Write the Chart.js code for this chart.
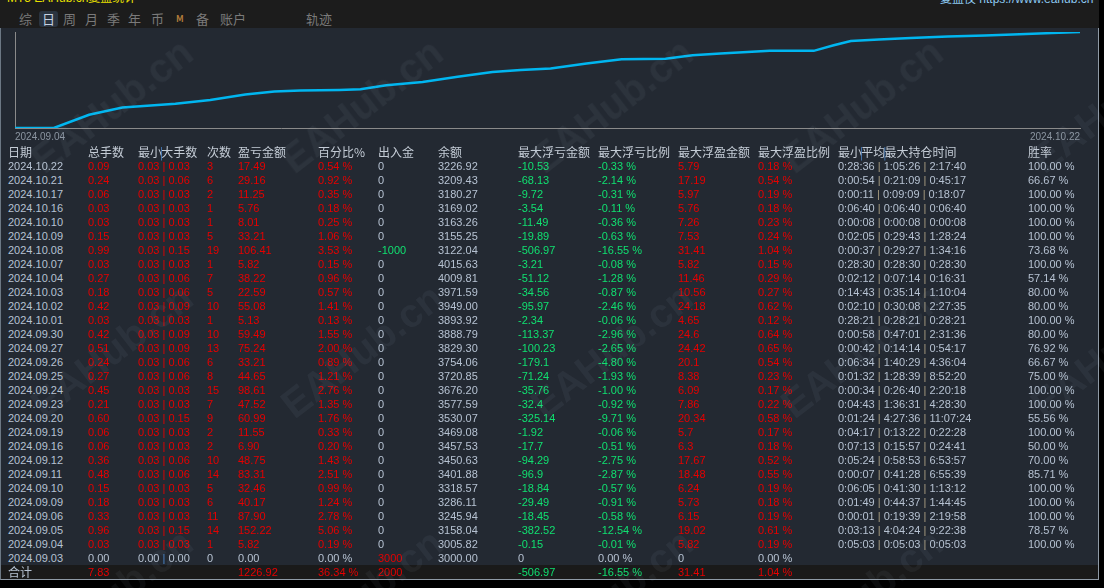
<!DOCTYPE html>
<html>
<head>
<meta charset="utf-8">
<script src="https://cdn.jsdelivr.net/npm/chart.js@4.4.1/dist/chart.umd.min.js"></script>
<style>
  html, body { margin: 0; padding: 0; background: #000; }
  body { width: 1104px; height: 588px; position: relative; overflow: hidden;
         font-family: "Liberation Sans", "Noto Sans CJK SC", sans-serif; }
  #topbar { position: absolute; left: 0; top: 0; width: 1099px; height: 28px; background: #1c1c1c; overflow: hidden; }
  #title { position: absolute; left: 7px; top: -12px; font-size: 12px; color: #e8e000; white-space: nowrap; }
  #site { position: absolute; left: 940px; top: -11px; font-size: 12px; color: #8cc8f0; white-space: nowrap; }
  .tab { position: absolute; top: 11px; font-size: 13px; line-height: 16px; color: #7a7a7a; font-family: "Noto Sans CJK SC", sans-serif; }
  .tab.on { color: #c4d0e0; background: #2a3440; border-radius: 3px; padding: 0 3px; margin-left: -3px; }
  #panel { position: absolute; left: 0; top: 28px; width: 1097px; height: 551px; background: #232932;
           border-left: 1px solid #6c7884; border-right: 1px solid #8f9aa6; border-bottom: 1px solid #8f9aa6; }
  #chartBox { position: absolute; left: 0; top: 28px; width: 1100px; height: 118px; }
  #foot { position: absolute; left: 1px; top: 565px; width: 1097px; height: 14px; background: #1a1a1a; }
  .c { position: absolute; font-size: 11px; line-height: 14px; height: 14px; white-space: nowrap; }
  .h { font-size: 12px; color: #c4ccd6; font-family: "Noto Sans CJK SC", sans-serif; }
  .wm { position: absolute; font: bold 40px "Liberation Sans", sans-serif; color: rgba(190,200,215,0.06);
        transform-origin: 0 100%; transform: rotate(-37.7deg); white-space: nowrap; pointer-events: none; }
</style>
</head>
<body>
<div id="topbar">
  <div id="title">MT5 EAHub.cn复盘统计</div>
  <div id="site">复盘仪 https://www.eahub.cn</div>
</div>
<div id="panel"></div>
<div id="foot"></div>
<div id="chartBox"><canvas id="equity"></canvas></div>
<script>
// equity curve (days after 2024.09.04, cumulative profit)
const curveDays = [0, 1.75, 3.34, 4.84, 5.96, 7.23, 8.8, 10.38, 11.69, 12.86,
  14.62, 15.57, 16.74, 18.37, 19.95, 21.52, 22.79, 24.14, 25.76, 27.34,
  29.32, 30.54, 31.8, 34.02, 36.0, 36.9, 37.67, 38.93, 40.37, 42.04,
  43.71, 44.97, 46.73, 48.0];
const curveProfit = [0, 0, 169, 262, 283, 309, 359, 427, 465, 478,
  486, 495, 546, 588, 655, 715, 741, 762, 825, 880,
  884, 931, 953, 986, 986, 1058, 1113, 1130, 1151, 1168,
  1181, 1194, 1214, 1227];
const axisDates = ['2024.09.04', '2024.10.22'];

// daily table
const dates = ['2024.10.22','2024.10.21','2024.10.17','2024.10.16','2024.10.10','2024.10.09','2024.10.08',
  '2024.10.07','2024.10.04','2024.10.03','2024.10.02','2024.10.01','2024.09.30','2024.09.27','2024.09.26',
  '2024.09.25','2024.09.24','2024.09.23','2024.09.20','2024.09.19','2024.09.16','2024.09.12','2024.09.11',
  '2024.09.10','2024.09.09','2024.09.06','2024.09.05','2024.09.04','2024.09.03'];
const totalLots = [0.09,0.24,0.06,0.03,0.03,0.15,0.99,0.03,0.27,0.18,0.42,0.03,0.42,0.51,0.24,0.27,0.45,0.21,0.60,0.06,0.06,0.36,0.48,0.15,0.18,0.33,0.96,0.03,0];
const minLots = [0.03,0.03,0.03,0.03,0.03,0.03,0.03,0.03,0.03,0.03,0.03,0.03,0.03,0.03,0.03,0.03,0.03,0.03,0.03,0.03,0.03,0.03,0.03,0.03,0.03,0.03,0.03,0.03,0];
const maxLots = [0.03,0.06,0.03,0.03,0.03,0.03,0.15,0.03,0.06,0.06,0.09,0.03,0.09,0.09,0.06,0.06,0.03,0.03,0.15,0.03,0.03,0.06,0.06,0.03,0.03,0.03,0.15,0.03,0];
const trades = [3,6,2,1,1,5,19,1,7,5,10,1,10,13,6,8,15,7,9,2,2,10,14,5,6,11,14,1,0];
const profit = [17.49,29.16,11.25,5.76,8.01,33.21,106.41,5.82,38.22,22.59,55.08,5.13,59.49,75.24,33.21,44.65,98.61,47.52,60.99,11.55,6.90,48.75,83.31,32.46,40.17,87.90,152.22,5.82,0];
const profitPct = [0.54,0.92,0.35,0.18,0.25,1.06,3.53,0.15,0.96,0.57,1.41,0.13,1.55,2.00,0.89,1.21,2.76,1.35,1.76,0.33,0.20,1.43,2.51,0.99,1.24,2.78,5.06,0.19,0];
const cashFlow = [0,0,0,0,0,0,-1000,0,0,0,0,0,0,0,0,0,0,0,0,0,0,0,0,0,0,0,0,0,3000];
const balance = [3226.92,3209.43,3180.27,3169.02,3163.26,3155.25,3122.04,4015.63,4009.81,3971.59,3949.00,3893.92,3888.79,3829.30,3754.06,3720.85,3676.20,3577.59,3530.07,3469.08,3457.53,3450.63,3401.88,3318.57,3286.11,3245.94,3158.04,3005.82,3000.00];
const floatLoss = [-10.53,-68.13,-9.72,-3.54,-11.49,-19.89,-506.97,-3.21,-51.12,-34.56,-95.97,-2.34,-113.37,-100.23,-179.1,-71.24,-35.76,-32.4,-325.14,-1.92,-17.7,-94.29,-96.9,-18.84,-29.49,-18.45,-382.52,-0.15,0];
const floatLossPct = [-0.33,-2.14,-0.31,-0.11,-0.36,-0.63,-16.55,-0.08,-1.28,-0.87,-2.46,-0.06,-2.96,-2.65,-4.80,-1.93,-1.00,-0.92,-9.71,-0.06,-0.51,-2.75,-2.87,-0.57,-0.91,-0.58,-12.54,-0.01,0];
const floatProfit = [5.79,17.19,5.97,5.76,7.26,7.53,31.41,5.82,11.46,10.56,24.18,4.65,24.6,24.42,20.1,8.38,6.09,7.86,20.34,5.7,6.3,17.67,18.48,6.24,5.73,6.15,19.02,5.82,0];
const floatProfitPct = [0.18,0.54,0.19,0.18,0.23,0.24,1.04,0.15,0.29,0.27,0.62,0.12,0.64,0.65,0.54,0.23,0.17,0.22,0.58,0.17,0.18,0.52,0.55,0.19,0.18,0.19,0.61,0.19,0];
const holdMin = ['0:28:36','0:00:54','0:00:11','0:06:40','0:00:08','0:02:05','0:00:37','0:28:30','0:02:12','0:14:43','0:02:10','0:28:21','0:00:58','0:00:42','0:06:34','0:01:32','0:00:34','0:04:43','0:01:24','0:04:17','0:07:13','0:05:24','0:00:07','0:06:05','0:01:49','0:00:01','0:03:13','0:05:03',''];
const holdAvg = ['1:05:26','0:21:09','0:09:09','0:06:40','0:00:08','0:29:43','0:29:27','0:28:30','0:07:14','0:35:14','0:30:08','0:28:21','0:47:01','0:14:14','1:40:29','1:28:39','0:26:40','1:36:31','4:27:36','0:13:22','0:15:57','0:58:53','0:41:28','0:41:30','0:44:37','0:19:39','4:04:24','0:05:03',''];
const holdMax = ['2:17:40','0:45:17','0:18:07','0:06:40','0:00:08','1:28:24','1:34:16','0:28:30','0:16:31','1:10:04','2:27:35','0:28:21','2:31:36','0:54:17','4:36:04','8:52:20','2:20:18','4:28:30','11:07:24','0:22:28','0:24:41','6:53:57','6:55:39','1:13:12','1:44:45','2:19:58','9:22:38','0:05:03',''];
const winRate = [100,66.67,100,100,100,100,73.68,100,57.14,80,80,100,80,76.92,66.67,75,100,100,55.56,100,50,70,85.71,100,100,100,78.57,100,null];

const headers = ['日期','总手数','最小|大手数','次数','盈亏金额','百分比%','出入金','余额','最大浮亏金额','最大浮亏比例','最大浮盈金额','最大浮盈比例','最小|平均|最大持仓时间','胜率'];
const totals = ['合计', 7.83, null, null, 1226.92, 36.34, 2000, null, -506.97, -16.55, 31.41, 1.04, null, null];

const tabs = [['综',19],['日',42],['周',63],['月',85],['季',107],['年',128],['币',151],['M',176],['备',196],['账户',220],['轨迹',306]];

const GRAY = '#b6c2d2', RED = '#e60000', GREEN = '#10e070';
const colX = [8, 88, 138, 207, 238, 318, 378, 438, 518, 598, 678, 758, 838, 1028];

function signColor(v) { return v > 0 ? RED : (v < 0 ? GREEN : GRAY); }
function pct(v) { return v.toFixed(2) + ' %'; }

function cell(x, y, html, color, cls) {
  const d = document.createElement('div');
  d.className = 'c' + (cls ? ' ' + cls : '');
  d.style.left = x + 'px';
  d.style.top = y + 'px';
  if (color) d.style.color = color;
  d.innerHTML = html;
  document.body.appendChild(d);
}

tabs.forEach(t => {
  const d = document.createElement('div');
  d.className = 'tab' + (t[0] === '日' ? ' on' : '');
  d.style.left = t[1] + 'px';
  d.textContent = t[0];
  if (t[0] === 'M') { d.style.fontSize = '9px'; d.style.color = '#b07a3a'; d.style.fontWeight = 'bold'; }
  document.getElementById('topbar').appendChild(d);
});

headers.forEach((h, i) => {
  const html = h.replace(/\|/g, '<span style="color:#4a84c8;margin:0 -2px">|</span>');
  cell(colX[i], 145, html, null, 'h');
});

dates.forEach((d, i) => {
  const y = 159 + i * 14;
  const lotCol = signColor(totalLots[i]);
  const pipe = '<span style="color:' + (maxLots[i] ? lotCol : '#4a84c8') + '"> | </span>';
  cell(colX[0], y, d, GRAY);
  cell(colX[1], y, totalLots[i].toFixed(2), lotCol);
  cell(colX[2], y, minLots[i].toFixed(2) + pipe + maxLots[i].toFixed(2), lotCol);
  cell(colX[3], y, String(trades[i]), signColor(trades[i]));
  cell(colX[4], y, profit[i].toFixed(2), signColor(profit[i]));
  cell(colX[5], y, pct(profitPct[i]), signColor(profitPct[i]));
  cell(colX[6], y, String(cashFlow[i]), signColor(cashFlow[i]));
  cell(colX[7], y, balance[i].toFixed(2), GRAY);
  cell(colX[8], y, String(floatLoss[i]), signColor(floatLoss[i]));
  cell(colX[9], y, pct(floatLossPct[i]), signColor(floatLossPct[i]));
  cell(colX[10], y, String(floatProfit[i]), signColor(floatProfit[i]));
  cell(colX[11], y, pct(floatProfitPct[i]), signColor(floatProfitPct[i]));
  if (holdMin[i]) {
    const bar = '<span style="color:#a89c80"> | </span>';
    cell(colX[12], y, holdMin[i] + bar + holdAvg[i] + bar + holdMax[i], GRAY);
  }
  if (winRate[i] !== null) cell(colX[13], y, pct(winRate[i]), GRAY);
});

totals.forEach((v, i) => {
  if (v === null) return;
  const y = 565;
  if (i === 0) { cell(colX[0], y, v, GRAY, 'h'); return; }
  const txt = (i === 5 || i === 9 || i === 11) ? pct(v) : (i === 6 || i === 8 || i === 10 ? String(v) : v.toFixed(2));
  cell(colX[i], y, txt, signColor(v));
});

// watermark
for (let r = 0; r < 3; r++) {
  for (let k = 0; k < 5; k++) {
    const w = document.createElement('div');
    w.className = 'wm';
    w.textContent = 'EAHub.cn';
    w.style.left = (50 + 250 * k) + 'px';
    w.style.top = (183 + 245 * r - 46) + 'px';
    document.body.appendChild(w);
  }
}

const ctx = document.getElementById('equity').getContext('2d');
new Chart(ctx, {
  type: 'line',
  data: {
    datasets: [{
      data: curveDays.map((d, i) => ({ x: d, y: curveProfit[i] })),
      borderColor: '#00b6f0',
      borderWidth: 2.5,
      pointRadius: 0,
      tension: 0,
      fill: false
    }]
  },
  options: {
    responsive: true,
    maintainAspectRatio: false,
    animation: false,
    layout: { padding: { left: 15, right: 20, top: 4, bottom: 0 } },
    plugins: { legend: { display: false }, tooltip: { enabled: false } },
    scales: {
      x: {
        type: 'linear',
        min: curveDays[0],
        max: curveDays[curveDays.length - 1],
        afterBuildTicks: axis => { axis.ticks = [{ value: axis.min }, { value: axis.max }]; },
        ticks: {
          color: '#8b95a1',
          font: { size: 10, family: 'Liberation Sans' },
          padding: 3,
          align: 'inner',
          maxRotation: 0,
          autoSkip: false,
          callback: (v, i) => axisDates[i]
        },
        grid: { display: false, drawTicks: false },
        border: { color: '#8a8a8a', width: 1 }
      },
      y: {
        min: 0,
        max: curveProfit[curveProfit.length - 1],
        ticks: { display: false },
        grid: { display: false, drawTicks: false },
        border: { color: '#8a8a8a', width: 1 }
      }
    }
  }
});
</script>
</body>
</html>
